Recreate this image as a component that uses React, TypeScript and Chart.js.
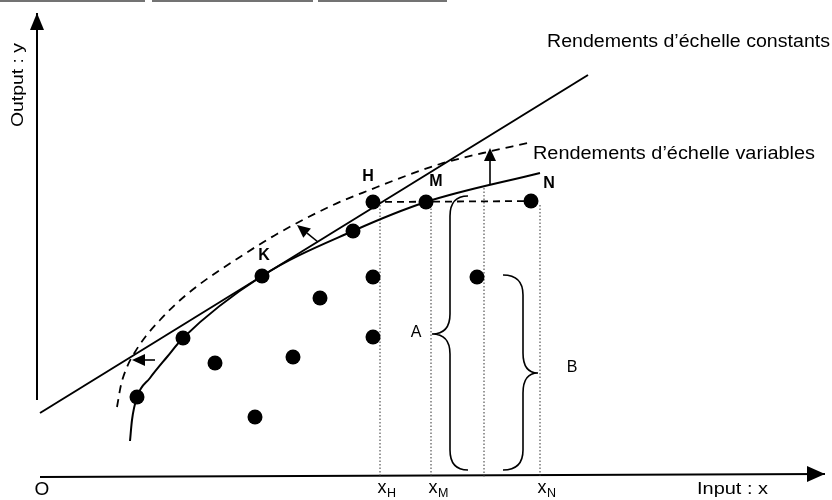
import React, { useEffect, useRef } from "react";
import { Chart, registerables } from "chart.js";

Chart.register(...registerables);

// ---- Data (units: input x, output y) ----
const dmuX = [9.7, 14.3, 22.2, 17.5, 25.3, 28.0, 21.5, 33.3, 33.3, 33.3, 31.3, 38.6, 49.1, 43.7];
const dmuY = [8.0, 13.9, 20.1, 11.4, 12.0, 17.9, 6.0, 20.0, 14.0, 27.5, 24.6, 27.5, 27.6, 20.0];

const crsX = [0, 54.8];
const crsY = [6.4, 40.2];

const vrsX = [9.0, 9.2, 9.7, 11.0, 12.7, 14.3, 22.2, 31.3, 38.6, 50.0];
const vrsY = [3.6, 5.7, 8.0, 9.9, 12.0, 13.9, 20.1, 24.6, 27.5, 30.4];

const shiftX = [7.7, 8.1, 8.7, 9.5, 10.6, 12.0, 13.8, 16.0, 20.3, 23.7, 29.3, 32.7, 40.0, 44.3, 48.8];
const shiftY = [7.0, 9.2, 11.0, 12.5, 14.1, 15.7, 17.5, 19.3, 22.2, 24.3, 27.2, 28.6, 31.3, 32.4, 33.4];

const hnX = [33.3, 50.0];
const hnY = [27.5, 27.6];

const dropX = [34.0, 39.1, 44.4, 50.0];
const dropTop = [27.2, 27.2, 28.9, 27.2];

const tickX = [34.0, 39.1, 50.0];
const tickSub = ["H", "M", "N"];

const arrowFromX = [11.5, 27.8, 45.0];
const arrowFromY = [11.7, 23.5, 29.2];
const arrowToX = [9.2, 25.7, 45.0];
const arrowToY = [11.7, 25.2, 32.9];

// braces: tip, spine, end of curls, top, bottom
const braceTipX = [39.2, 49.8];
const braceTipY = [14.3, 10.4];
const braceSpineX = [41.0, 48.3];
const braceEndX = [42.8, 46.3];
const braceTop = [28.1, 20.2];
const braceBottom = [0.7, 0.7];
const braceNames = ["A", "B"];
const braceLabelX = [37.6, 53.2];
const braceLabelY = [14.4, 10.9];

const pointNames = ["H", "M", "N", "K"];
const pointLabelX = [32.8, 39.6, 50.9, 22.4];
const pointLabelY = [30.0, 29.5, 29.3, 22.1];

const axisX = [0, 78.5];
const axisXY = [0, 0.3];
const axisYX = [-0.3, -0.3];
const axisYY = [7.7, 46.4];

const borderSegX = [[-4, 10.5], [11.2, 27.3], [27.8, 40.7]];
const borderY = 47.6;

const FONT = '"Liberation Sans", Arial, Helvetica, sans-serif';

const pts = (xs: number[], ys: number[]) => xs.map((x, i) => ({ x, y: ys[i] }));

function drawText(
  ctx: CanvasRenderingContext2D,
  s: string,
  x: number,
  y: number,
  o: { size: number; bold?: boolean; align?: CanvasTextAlign; base?: CanvasTextBaseline; width?: number; rot?: number }
) {
  ctx.save();
  ctx.translate(x, y);
  if (o.rot) ctx.rotate(o.rot);
  ctx.font = `${o.bold ? "bold " : ""}${o.size}px ${FONT}`;
  let sx = 1;
  if (o.width) sx = o.width / ctx.measureText(s).width;
  ctx.scale(sx, 1);
  ctx.textAlign = o.align || "left";
  ctx.textBaseline = o.base || "alphabetic";
  ctx.fillStyle = "#000";
  ctx.fillText(s, 0, 0);
  ctx.restore();
}

function arrow(ctx: CanvasRenderingContext2D, x0: number, y0: number, x1: number, y1: number, len: number, half: number, lw: number) {
  const a = Math.atan2(y1 - y0, x1 - x0);
  const bx = x1 - Math.cos(a) * len;
  const by = y1 - Math.sin(a) * len;
  ctx.save();
  ctx.strokeStyle = "#000";
  ctx.fillStyle = "#000";
  ctx.lineWidth = lw;
  ctx.beginPath();
  ctx.moveTo(x0, y0);
  ctx.lineTo(bx, by);
  ctx.stroke();
  ctx.beginPath();
  ctx.moveTo(x1, y1);
  ctx.lineTo(bx + Math.sin(a) * half, by - Math.cos(a) * half);
  ctx.lineTo(bx - Math.sin(a) * half, by + Math.cos(a) * half);
  ctx.closePath();
  ctx.fill();
  ctx.restore();
}

const overlay = {
  id: "overlay",
  afterDatasetsDraw(chart: any) {
    const ctx: CanvasRenderingContext2D = chart.ctx;
    const sx = chart.scales.x;
    const sy = chart.scales.y;
    const X = (v: number) => sx.getPixelForValue(v);
    const Y = (v: number) => sy.getPixelForValue(v);

    // axis arrowheads
    arrow(ctx, X(axisYX[0]), Y(axisYY[1]) + 10, X(axisYX[1]), Y(axisYY[1]), 17, 7, 2);
    arrow(ctx, X(axisX[1]) - 10, Y(axisXY[1]), X(axisX[1]), Y(axisXY[1]), 18, 8, 2);

    // direction arrows
    for (let i = 0; i < arrowFromX.length; i++) {
      arrow(ctx, X(arrowFromX[i]), Y(arrowFromY[i]), X(arrowToX[i]), Y(arrowToY[i]), 13, 6, 1.6);
    }

    // braces
    ctx.save();
    ctx.strokeStyle = "#000";
    ctx.lineWidth = 1.6;
    const r = 20;
    for (let i = 0; i < braceTipX.length; i++) {
      const tx = X(braceTipX[i]);
      const ty = Y(braceTipY[i]);
      const spx = X(braceSpineX[i]);
      const ex = X(braceEndX[i]);
      const top = Y(braceTop[i]);
      const bot = Y(braceBottom[i]);
      ctx.beginPath();
      ctx.moveTo(ex, top);
      ctx.quadraticCurveTo(spx, top, spx, top + r);
      ctx.lineTo(spx, ty - r);
      ctx.quadraticCurveTo(spx, ty, tx, ty);
      ctx.quadraticCurveTo(spx, ty, spx, ty + r);
      ctx.lineTo(spx, bot - r);
      ctx.quadraticCurveTo(spx, bot, ex, bot);
      ctx.stroke();
      drawText(ctx, braceNames[i], X(braceLabelX[i]), Y(braceLabelY[i]), { size: 16, align: "center", base: "middle" });
    }
    ctx.restore();

    // point labels
    for (let i = 0; i < pointNames.length; i++) {
      drawText(ctx, pointNames[i], X(pointLabelX[i]), Y(pointLabelY[i]), { size: 16, bold: true, align: "center", base: "middle" });
    }

    // frontier labels
    drawText(ctx, "Rendements d’échelle constants", X(50.7), Y(43.0), { size: 17.5, width: 283 });
    drawText(ctx, "Rendements d’échelle variables", X(49.3), Y(31.8), { size: 17.5, width: 282 });

    // axis labels
    drawText(ctx, "Output : y", 18, 85, { size: 17, align: "center", base: "middle", rot: -Math.PI / 2, width: 84 });
    drawText(ctx, "Input : x", X(65.7), Y(-1.7), { size: 17, width: 71 });
    drawText(ctx, "O", X(0.2), Y(-1.3), { size: 19, align: "center", base: "middle" });

    // tick labels x_H, x_M, x_N
    for (let i = 0; i < tickX.length; i++) {
      const lx = X(tickX[i]) - 2.5;
      const by = Y(-1.6);
      ctx.save();
      ctx.font = `18px ${FONT}`;
      const w = ctx.measureText("x").width;
      ctx.restore();
      drawText(ctx, "x", lx, by, { size: 18 });
      drawText(ctx, tickSub[i], lx + w + 0.5, by + 4, { size: 12.5 });
    }
  },
};

export default function App() {
  const ref = useRef<HTMLCanvasElement>(null);

  useEffect(() => {
    if (!ref.current) return;
    const line = (data: any[], extra: any = {}) => ({
      data,
      showLine: true,
      borderColor: "#000",
      backgroundColor: "#000",
      borderWidth: 2,
      pointRadius: 0,
      pointHoverRadius: 0,
      fill: false,
      ...extra,
    });

    const datasets: any[] = [
      {
        data: pts(dmuX, dmuY),
        showLine: false,
        pointRadius: 7.5,
        pointHoverRadius: 7.5,
        pointBackgroundColor: "#000",
        pointBorderColor: "#000",
        pointBorderWidth: 0,
      },
      line(pts(crsX, crsY), { borderWidth: 2 }),
      line(pts(vrsX, vrsY), { cubicInterpolationMode: "monotone", borderWidth: 2 }),
      line(pts(shiftX, shiftY), { cubicInterpolationMode: "monotone", borderWidth: 1.8, borderDash: [8, 6] }),
      line(pts(hnX, hnY), { borderWidth: 1.8, borderDash: [7, 5] }),
      ...dropX.map((x, i) =>
        line([{ x, y: dropTop[i] }, { x, y: 0 }], { borderWidth: 1, borderDash: [1.5, 2], borderColor: "#333" })
      ),
      line(pts(axisX, axisXY), { borderWidth: 2 }),
      line(pts(axisYX, axisYY), { borderWidth: 2 }),
      ...borderSegX.map((seg) =>
        line([{ x: seg[0], y: borderY }, { x: seg[1], y: borderY }], { borderWidth: 1.5, borderColor: "#444" })
      ),
    ];

    const chart = new Chart(ref.current, {
      type: "scatter",
      data: { datasets },
      options: {
        animation: false,
        responsive: true,
        maintainAspectRatio: false,
        devicePixelRatio: 1,
        events: [],
        layout: { padding: 0, autoPadding: false },
        plugins: { legend: { display: false }, tooltip: { enabled: false }, title: { display: false } },
        scales: {
          x: { type: "linear", min: -4, max: 79.2, display: false },
          y: { type: "linear", min: -2.3, max: 47.7, display: false },
        },
      },
      plugins: [overlay],
    });
    return () => chart.destroy();
  }, []);

  return (
    <div style={{ position: "fixed", left: 0, top: 0, width: 832, height: 500, background: "#fff" }}>
      <canvas ref={ref} />
    </div>
  );
}
